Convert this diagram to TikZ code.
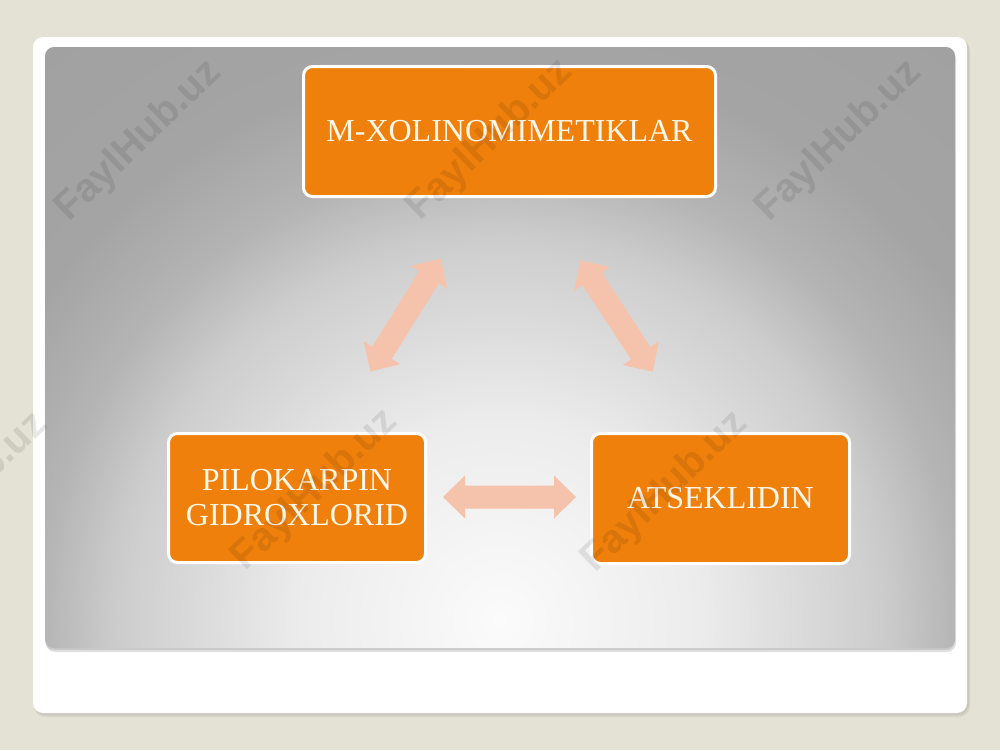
\documentclass[tikz,border=0pt]{standalone}
\usepackage{fontspec}
\setmainfont{Liberation Serif}
\newfontfamily\wmfont{Liberation Sans}
\definecolor{bgbeige}{RGB}{228,225,213}
\definecolor{boxorange}{RGB}{239,128,12}
\definecolor{arrowsalmon}{RGB}{245,194,171}
\definecolor{boxtext}{RGB}{255,247,232}
\definecolor{pA}{RGB}{251,251,251}
\definecolor{pB}{RGB}{236,236,236}
\definecolor{pC}{RGB}{205,205,205}
\definecolor{pD}{RGB}{180,180,180}
\definecolor{pE}{RGB}{164,164,164}
\definecolor{pF}{RGB}{160,160,160}
\pgfdeclareradialshading{panelshade}{\pgfpoint{0bp}{0bp}}{color(0bp)=(pA); color(6.25bp)=(pB); color(11.875bp)=(pC); color(14.375bp)=(pD); color(17.5bp)=(pE); color(25bp)=(pF); color(50bp)=(pF)}
\tikzset{
  orangebox/.style={draw=white, line width=3pt, fill=boxorange, rounded corners=9pt,
    text=boxtext, align=center, font=\fontsize{32}{35}\selectfont, inner sep=0pt},
  watermark/.style={text=black, text opacity=0.09, font=\wmfont\bfseries\fontsize{40}{40}\selectfont, rotate=44},
  dblarrow/.pic={\fill[arrowsalmon] (-66.5,0) -- (-44.5,21.5) -- (-44.5,11.5) -- (44.5,11.5) -- (44.5,21.5) -- (66.5,0) -- (44.5,-21.5) -- (44.5,-11.5) -- (-44.5,-11.5) -- (-44.5,-21.5) -- cycle;}
}
\begin{document}
\begin{tikzpicture}[x=1pt,y=-1pt]
\useasboundingbox (0,0) rectangle (1000,750);
\fill[bgbeige] (0,0) rectangle (1000,750);
% card shadow
\fill[black, opacity=0.06, rounded corners=11pt] (34,39) rectangle (970,717);
\fill[black, opacity=0.06, rounded corners=11pt] (34,39) rectangle (969,715);
% white card
\fill[white, rounded corners=10pt] (33,37) rectangle (967,713);
% panel shadow
\fill[black, opacity=0.12, rounded corners=9pt] (46,50) rectangle (956,652);
\fill[black, opacity=0.10, rounded corners=9pt] (45,49) rectangle (955,650);
% gray panel
\begin{scope}
  \clip[rounded corners=9pt] (45,47) rectangle (955,648);
  \shade[shading=panelshade] (-300,-180) rectangle (1300,1420);
\end{scope}
% arrows
\pic at (509.5,497) {dblarrow};
\pic[rotate=58.1] at (405.5,315) {dblarrow};
\pic[rotate=-56.9] at (616.5,316) {dblarrow};
% boxes
\node[orangebox, minimum width=412pt, minimum height=130pt] (top) at (509.5,131.5) {M-XOLINOMIMETIKLAR};
\node[orangebox, minimum width=257pt, minimum height=129pt] (left) at (297,498) {PILOKARPIN\\GIDROXLORID};
\node[orangebox, minimum width=258pt, minimum height=130pt] (right) at (720.5,498.5) {ATSEKLIDIN};
% watermarks
\node[watermark] (w1) at (139,141) {FaylHub.uz};
\node[watermark] (w2) at (490,140) {FaylHub.uz};
\node[watermark] (w3) at (839,141) {FaylHub.uz};
\node[watermark] (w4) at (-35,493) {FaylHub.uz};
\node[watermark] (w5) at (315,490) {FaylHub.uz};
\node[watermark] (w6) at (665,492) {FaylHub.uz};
\end{tikzpicture}
\end{document}
